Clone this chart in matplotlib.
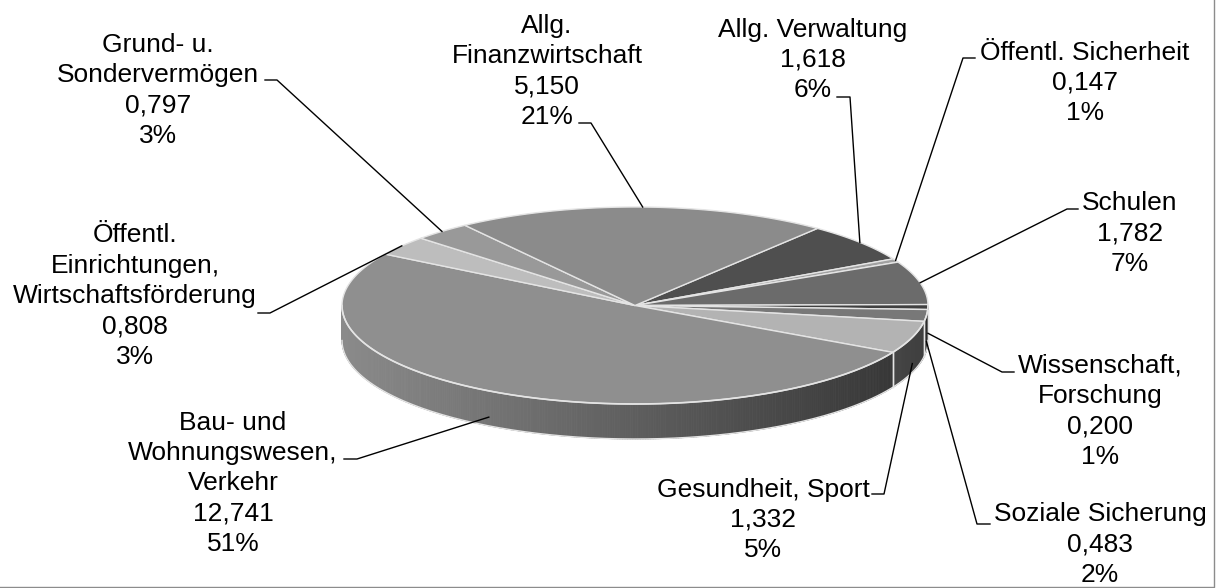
import numpy as np
import matplotlib.pyplot as plt
from matplotlib.patches import Polygon
from matplotlib.collections import PolyCollection

# data (Mrd.), clockwise from the Allg. Verwaltung slice
names = ["Allg. Verwaltung", "Öffentl. Sicherheit", "Schulen",
         "Wissenschaft,\nForschung", "Soziale Sicherung", "Gesundheit, Sport",
         "Bau- und\nWohnungswesen,\nVerkehr",
         "Öffentl.\nEinrichtungen,\nWirtschaftsförderung",
         "Grund- u.\nSondervermögen", "Allg.\nFinanzwirtschaft"]
values = [1.618, 0.147, 1.782, 0.200, 0.483, 1.332, 12.741, 0.808, 0.797, 5.150]

# grey level of each slice top
grey = [0.31, 0.63, 0.42, 0.25, 0.47, 0.70, 0.56, 0.74, 0.60, 0.545]

# label placement (pixels): centre x, centre y of first line
label_xy = [(813, 27), (1085, 50), (1130, 201), (1100, 363), (1100, 512),
            (763, 487), (233, 420), (135, 233), (158, 42), (547, 23)]
# short horizontal stub next to label: (x_text_side, x_elbow, y)
stubs = [(837, 850, 97), (975, 963, 58), (1078, 1067, 209), (1014, 1002, 372),
         (990, 977, 524), (872, 884, 494), (344, 357, 459), (258, 270, 313),
         (265, 277, 80), (579, 591, 123)]

cx, cy, rx, ry, depth = 635, 305.5, 293, 98.5, 35
start = 51.5
line_h = 30.4


def rim(t):
    t = np.radians(t)
    return cx + rx * np.cos(t), cy - ry * np.sin(t)


def shade(x):
    return np.clip(0.97 - 0.57 * (x - 342) / 538, 0.3, 1.0)


fig = plt.figure(figsize=(12.18, 5.88), dpi=100)
ax = fig.add_axes([0, 0, 1, 1])
ax.set_xlim(0, 1218)
ax.set_ylim(588, 0)
ax.axis('off')

total = sum(values)
edge = '#e4e4e4'
angles = [start]
for v in values:
    angles.append(angles[-1] - v / total * 360)

# side walls (front half only: -180..0)
quads, cols = [], []
for i, v in enumerate(values):
    hi, lo = angles[i], angles[i + 1]
    a, b = max(lo, -180), min(hi, 0)
    if a >= b:
        continue
    ts = np.linspace(a, b, max(2, int((b - a) * 2) + 1))
    for t0, t1 in zip(ts[:-1], ts[1:]):
        x0, y0 = rim(t0)
        x1, y1 = rim(t1)
        quads.append([(x0, y0), (x1, y1), (x1, y1 + depth), (x0, y0 + depth)])
        g = grey[i] * shade((x0 + x1) / 2)
        cols.append((g, g, g))
    for t in (a, b):
        if -180 < t < 0:
            x, y = rim(t)
            ax.plot([x, x], [y, y + depth], color=edge, lw=1, zorder=3)
ax.add_collection(PolyCollection(quads, facecolors=cols, edgecolors=cols,
                                 linewidths=0.6, zorder=1))
tf = np.linspace(-180, 0, 200)
xf, yf = rim(tf)
ax.plot(xf, yf + depth, color=edge, lw=1, zorder=3)
ax.plot(xf, yf, color=edge, lw=1.2, zorder=5)

# top faces
for i, v in enumerate(values):
    hi, lo = angles[i], angles[i + 1]
    ts = np.linspace(hi, lo, max(3, int((hi - lo) * 2) + 1))
    xs, ys = rim(ts)
    pts = [(cx, cy)] + list(zip(xs, ys))
    g = grey[i]
    ax.add_patch(Polygon(pts, closed=True, facecolor=(g, g, g),
                         edgecolor=edge, lw=1, zorder=4))

# labels with leader lines
for i, v in enumerate(values):
    pct = round(v / total * 100)
    lines = names[i].split("\n") + [f"{v:.3f}".replace(".", ","), f"{pct}%"]
    lx, ly = label_xy[i]
    for k, s in enumerate(lines):
        ax.text(lx, ly + k * line_h + 9.5, s, ha='center', va='baseline',
                fontsize=19, family=['Liberation Sans', 'DejaVu Sans'],
                color='black', zorder=6)
    mid = (angles[i] + angles[i + 1]) / 2
    ax_, ay_ = rim(mid)
    if np.sin(np.radians(mid)) < 0:
        ay_ += depth * 0.75
    sx0, sx1, sy = stubs[i]
    ax.plot([sx0, sx1, ax_], [sy, sy, ay_], color='black', lw=1.0, zorder=6)

# chart frame (only right and bottom edges fall inside the image)
ax.plot([1214, 1214, -10], [-10, 587, 587], color='#8c8c8c', lw=1, zorder=7)

fig.savefig('out.png', dpi=100)
